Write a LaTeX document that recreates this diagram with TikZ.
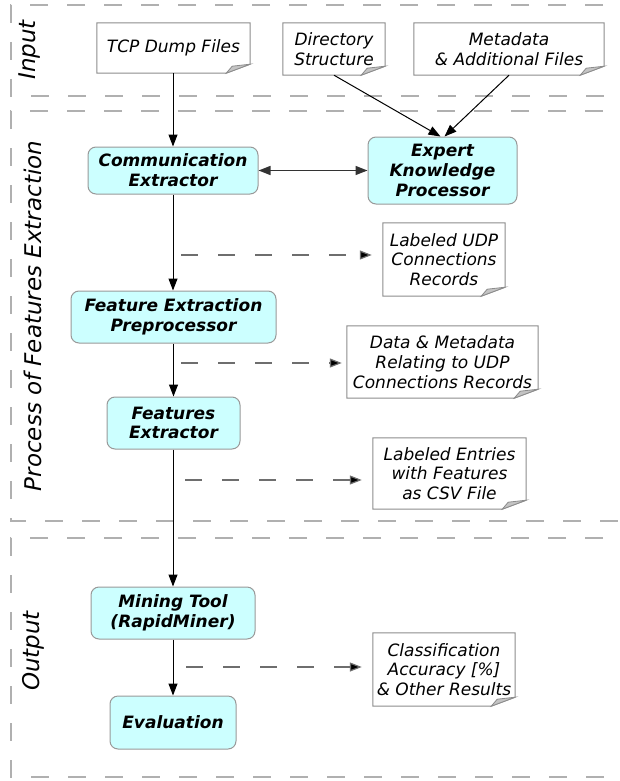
\documentclass[tikz,border=0pt]{standalone}
\usepackage{fontspec}
\setmainfont{DejaVu Sans}
\usetikzlibrary{arrows.meta,calc}
\definecolor{procfill}{HTML}{CCFFFF}
\definecolor{procline}{HTML}{999999}
\definecolor{docline}{HTML}{8C8C8C}
\definecolor{foldfill}{HTML}{C4C4C4}
\definecolor{laneline}{HTML}{B0B0B0}
\definecolor{dashcol}{HTML}{6E6E6E}
\tikzset{
  txt/.style={font=\fontsize{17}{19.7}\selectfont\itshape, align=center, inner sep=0pt},
  procbox/.style={txt, font=\fontsize{17}{19.7}\selectfont\bfseries\itshape, draw=procline, line width=1pt, fill=procfill, rounded corners=8pt},
  docbox/.style={txt},
  flow/.style={draw=black, line width=1pt, -{Triangle[length=12pt,width=9pt]}},
  bothflow/.style={draw=black!80, line width=1.4pt, {Triangle[length=12pt,width=9pt]}-{Triangle[length=12pt,width=9pt]}},
  dflow/.style={draw=dashcol, line width=1.2pt, dash pattern=on 17pt off 20pt, -{Triangle[length=12pt,width=9pt,fill=black]}},
  lane/.style={draw=laneline, line width=1.3pt, dash pattern=on 18pt off 19pt},
  lanelabel/.style={font=\fontsize{23}{27}\selectfont\itshape, rotate=90, inner sep=0pt},
}
\newcommand{\docshape}[1]{%
  \draw[docline, line width=1pt] (#1.north west) -- (#1.north east) -- ($(#1.south east)+(0,-9)$) -- ($(#1.south east)+(-24,0)$) -- (#1.south west) -- cycle;
  \filldraw[fill=foldfill, draw=docline, line width=0.8pt] ($(#1.south east)+(0,-9)$) -- ($(#1.south east)+(-24,0)$) -- ($(#1.south east)+(-18,-7)$) -- cycle;
}
\begin{document}
\begin{tikzpicture}[x=1pt,y=-1pt]
\useasboundingbox (0,0) rectangle (620,781);
% lanes
\draw[lane] (640,5) -- (11,5) -- (11,96) -- (640,96);
\draw[lane] (640,111) -- (11,111) -- (11,521) -- (640,521);
\draw[lane] (640,538) -- (11,538) -- (11,777) -- (640,777);
\node[lanelabel] (linput) at (30,50) {Input};
\node[lanelabel] (lproc) at (33,316) {Process of Features Extraction};
\node[lanelabel] (lout) at (33,651) {Output};
% input documents
\node[docbox, minimum width=153pt, minimum height=50pt] (tcp) at (173.5,48) {TCP Dump Files};
\node[docbox, minimum width=102pt, minimum height=52pt] (dir) at (334,49) {Directory\\Structure};
\node[docbox, minimum width=190pt, minimum height=52pt] (meta) at (509,49) {Metadata\\\& Additional Files};
% processes
\node[procbox, minimum width=170pt, minimum height=47pt] (comm) at (173,170.5) {Communication\\Extractor};
\node[procbox, minimum width=149pt, minimum height=67pt] (expert) at (442.5,170.5) {Expert\\Knowledge\\Processor};
\node[procbox, minimum width=205pt, minimum height=52pt] (fep) at (173.5,317) {Feature Extraction\\Preprocessor};
\node[procbox, minimum width=133pt, minimum height=52pt] (fext) at (173.5,423) {Features\\Extractor};
\node[procbox, minimum width=164pt, minimum height=52pt] (mine) at (173,613) {Mining Tool\\(RapidMiner)};
\node[procbox, minimum width=126pt, minimum height=53pt] (eval) at (173,722.5) {Evaluation};
% output documents
\node[docbox, minimum width=122pt, minimum height=73pt] (udp) at (444,259.5) {Labeled UDP\\Connections\\Records};
\node[docbox, minimum width=191pt, minimum height=72pt] (dmeta) at (442.5,362) {Data \& Metadata\\Relating to UDP\\Connections Records};
\node[docbox, minimum width=153pt, minimum height=71pt] (csv) at (449.5,473.5) {Labeled Entries\\with Features\\as CSV File};
\node[docbox, minimum width=142pt, minimum height=73pt] (cls) at (444,669.5) {Classification\\Accuracy [\%]\\\& Other Results};
\foreach \n in {tcp,dir,meta,udp,dmeta,csv,cls} {\docshape{\n}}
% flows
\draw[flow] (tcp.south -| comm.north) -- (comm.north);
\draw[flow] (dir.south) -- ([xshift=-2pt]expert.north);
\draw[flow] (meta.south) -- ([xshift=2pt]expert.north);
\draw[bothflow] (comm.east) -- (expert.west);
\draw[flow] (comm.south) -- (comm.south |- fep.north);
\draw[flow] (fep.south -| fext.north) -- (fext.north);
\draw[flow] (fext.south -| mine.north) -- (mine.north);
\draw[flow] (mine.south -| eval.north) -- (eval.north);
% dashed outputs
\coordinate (d1) at (181,255);
\coordinate (d2) at (181,363);
\coordinate (d3) at (185,480);
\coordinate (d4) at (186,667);
\draw[dflow, shorten >=11pt] (d1) -- (d1 -| udp.west);
\draw[dflow, shorten >=5pt] (d2) -- (d2 -| dmeta.west);
\draw[dflow, shorten >=11pt] (d3) -- (d3 -| csv.west);
\draw[dflow, shorten >=11pt] (d4) -- (d4 -| cls.west);
\end{tikzpicture}
\end{document}
